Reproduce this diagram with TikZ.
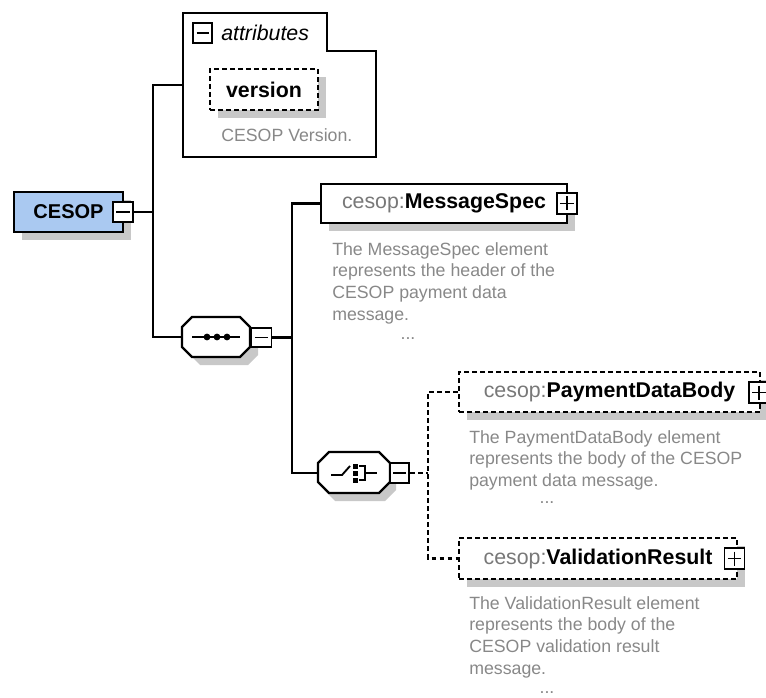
\documentclass[tikz,border=0pt]{standalone}
\usepackage{fontspec}
\setmainfont{Liberation Sans}
\usetikzlibrary{shadows,calc}
\definecolor{cesopfill}{RGB}{170,201,241}
\definecolor{shadc}{RGB}{200,200,200}
\definecolor{descc}{RGB}{136,136,136}
\definecolor{prefc}{RGB}{120,120,120}
\tikzset{
  conn/.style={line width=1.7pt, black},
  dashconn/.style={conn, dash pattern=on 3.4pt off 2.6pt},
  shad/.style={drop shadow={shadow xshift=6pt, shadow yshift=-6pt, fill=shadc, opacity=1}},
  elbox/.style={rectangle, draw, line width=1.7pt, fill=white, inner sep=0pt, shad},
  optbox/.style={elbox, dash pattern=on 3.4pt off 2.6pt},
  hidden/.style={rectangle, draw=none, inner sep=0pt},
  titlef/.style={font=\fontsize{16}{19}\selectfont},
  descf/.style={font=\fontsize{13.3}{16.4}\selectfont, text=descc, align=left, inner sep=0pt},
  pmbox/.style={rectangle, draw, line width=1.4pt, fill=white, inner sep=0pt,
     minimum width=15pt, minimum height=15.5pt},
  minus/.style={pmbox, path picture={\draw[line width=1.3pt]
     ([xshift=2.5pt]path picture bounding box.west) -- ([xshift=-2.5pt]path picture bounding box.east);}},
  plus/.style={pmbox, path picture={\draw[line width=1.3pt]
     ([xshift=2.5pt]path picture bounding box.west) -- ([xshift=-2.5pt]path picture bounding box.east)
     ([yshift=-2.5pt]path picture bounding box.north) -- ([yshift=2.5pt]path picture bounding box.south);}},
}
\begin{document}
\begin{tikzpicture}[x=0.75pt,y=-0.75pt]
\useasboundingbox (0,0) rectangle (766,698);

% ---------- root ----------
\node[elbox, fill=cesopfill, minimum width=81.75pt, minimum height=30pt,
      font=\fontsize{15}{18}\selectfont\bfseries] (cesop) at (68.5,212) {CESOP\hspace{10pt}};
\node[minus, minimum width=15pt, minimum height=15.5pt] (cesopm) at (123,212) {};
\coordinate (j1) at (153,212);

% ---------- attributes ----------
\node[hidden, minimum width=144.75pt, minimum height=108pt] (attr) at (279.5,85) {};
\draw[line width=1.7pt, fill=white] (183,13) -- (327,13) -- (327,51) -- (376,51) -- (376,157) -- (183,157) -- cycle;
\node[minus, minimum width=14pt, minimum height=15pt] (attrm) at (202.5,33) {};
\node[anchor=west, inner sep=0pt, font=\fontsize{16}{19}\selectfont\itshape] (attrt) at (221,33) {attributes};
\node[optbox, minimum width=81pt, minimum height=30.75pt, font=\fontsize{16}{19}\selectfont\bfseries] (version) at (264,89.5) {version};
\node[descf, anchor=west] (versiond) at (221,135) {CESOP Version.};

% ---------- sequence ----------
\node[hidden, minimum width=51pt, minimum height=30pt] (seq) at (216,337) {};
\fill[shadc] (200,325) -- (248,325) -- (258,335) -- (258,355) -- (248,365) -- (200,365) -- (190,355) -- (190,335) -- cycle;
\draw[line width=1.7pt, fill=white] (192,317) -- (240,317) -- (250,327) -- (250,347) -- (240,357) -- (192,357) -- (182,347) -- (182,327) -- cycle;
\draw[line width=1.4pt] (192,337) -- (240,337);
\foreach \xx in {207,217,227} \fill (\xx,337) circle (3.4);
\node[minus, minimum width=15pt, minimum height=14.5pt] (seqm) at (261.5,337.5) {};
\coordinate (j2) at (292,337.5);

% ---------- MessageSpec ----------
\node[elbox, minimum width=184.5pt, minimum height=29.25pt, titlef] (ms) at (444,203.5)
  {\textcolor{prefc}{cesop:}\textbf{MessageSpec}\hspace{7pt}};
\node[plus] (msp) at (567,203.5) {};
\node[descf, anchor=north west] (msd) at (332,242) {The MessageSpec element\\represents the header of the\\CESOP payment data\\message.};
\node[descf] (msdots) at (408,339) {...};

% ---------- choice ----------
\node[hidden, minimum width=54pt, minimum height=30.75pt] (cho) at (354,473) {};
\fill[shadc] (335,460) -- (385,460) -- (396,471) -- (396,490) -- (385,501) -- (335,501) -- (324,490) -- (324,471) -- cycle;
\draw[line width=1.7pt, fill=white] (329,452) -- (379,452) -- (390,463) -- (390,482) -- (379,493) -- (329,493) -- (318,482) -- (318,463) -- cycle;
\draw[line width=1.4pt] (331,475) -- (342,475) -- (350,466);
\foreach \yy in {466,473,480} \fill (352.5,\yy-2.5) rectangle (357.5,\yy+2.5);
\draw[line width=1.4pt] (359,466) -- (365,466) -- (365,480) -- (359,480) (365,473) -- (377,473);
\node[minus, minimum width=14.5pt, minimum height=15pt] (chom) at (399.5,473) {};
\coordinate (j3) at (428,473);

% ---------- PaymentDataBody ----------
\node[optbox, minimum width=225.75pt, minimum height=30pt, titlef] (pdb) at (609.5,392)
  {\textcolor{prefc}{cesop:}\textbf{PaymentDataBody}\hspace{7pt}};
\node[plus] (pdbp) at (759,392.5) {};
\node[descf, anchor=north west] (pdbd) at (469,430) {The PaymentDataBody element\\represents the body of the CESOP\\payment data message.};
\node[descf] (pdbdots) at (547,503) {...};

% ---------- ValidationResult ----------
\node[optbox, minimum width=208.5pt, minimum height=30.75pt, titlef] (vr) at (598,558.5)
  {\textcolor{prefc}{cesop:}\textbf{ValidationResult}\hspace{7pt}};
\node[plus] (vrp) at (734.5,558.5) {};
\node[descf, anchor=north west] (vrd) at (469,596) {The ValidationResult element\\represents the body of the\\CESOP validation result\\message.};
\node[descf] (vrdots) at (547,693) {...};

% ---------- connectors ----------
\draw[conn] (cesopm.east) -- (j1);
\draw[conn] (attr.west) -| (j1) |- (seq.west);
\draw[conn] (seqm.east) -- (j2);
\draw[conn] (ms.west) -| (j2) |- (cho.west);
\draw[dashconn] (chom.east) -- (j3);
\draw[dashconn] (pdb.west) -| (j3) |- (vr.west);
\end{tikzpicture}
\end{document}
